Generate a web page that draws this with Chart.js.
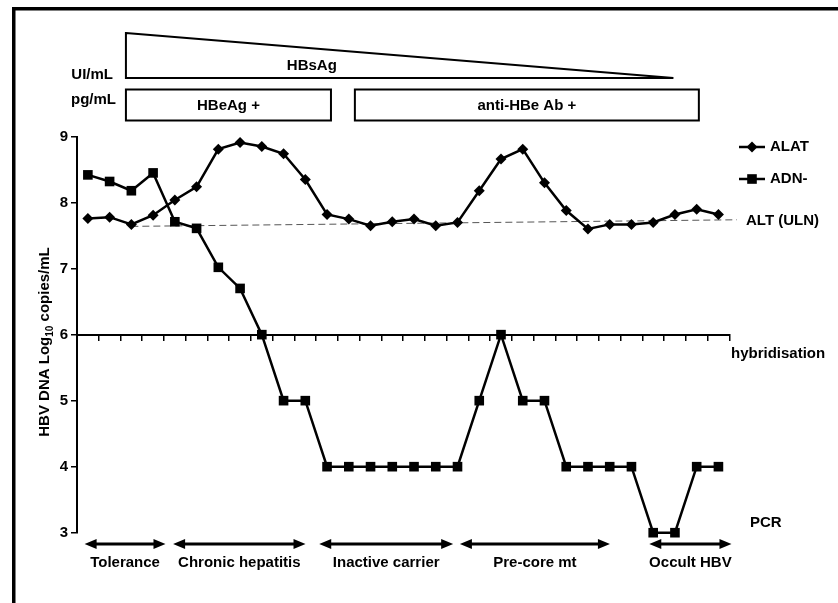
<!DOCTYPE html>
<html>
<head>
<meta charset="utf-8">
<script src="https://cdn.jsdelivr.net/npm/chart.js@4.4.0/dist/chart.umd.min.js"></script>
<style>
    html, body { margin: 0; padding: 0; background: #fff; }
</style>
</head>
<body>
<canvas id="myChart" width="838" height="603"></canvas>
<script>
        // visit index along the course of the infection
        var visits = [0, 1, 2, 3, 4, 5, 6, 7, 8, 9, 10, 11, 12, 13, 14, 15, 16, 17, 18, 19, 20, 21, 22, 23, 24, 25, 26, 27, 28, 29];
        var alat = [7.76, 7.78, 7.67, 7.81, 8.04, 8.24, 8.81, 8.91, 8.85, 8.74, 8.35, 7.82, 7.75, 7.65, 7.71,
                    7.75, 7.65, 7.70, 8.18, 8.66, 8.81, 8.30, 7.88, 7.60, 7.67, 7.67, 7.70, 7.82, 7.90, 7.82];
        var adn = [8.42, 8.32, 8.18, 8.45, 7.71, 7.61, 7.02, 6.70, 6.0, 5, 5, 4, 4, 4, 4,
                   4, 4, 4, 5, 6, 5, 5, 4, 4, 4, 4, 3, 3, 4, 4];
        // upper limit of normal for ALT (dashed)
        var ulnX = [2, 29.85];
        var ulnY = [7.64, 7.74];
        var yTicks = [3, 4, 5, 6, 7, 8, 9];

        var phaseLabels = ['Tolerance', 'Chronic hepatitis', 'Inactive carrier', 'Pre-core mt', 'Occult HBV'];
        var phaseFrom = [-0.15, 3.92, 10.64, 17.11, 25.82];
        var phaseTo = [3.57, 10.01, 16.8, 24.01, 29.6];

        var markerLabels = ['HBeAg +', 'anti-HBe Ab +'];
        var markerFrom = [1.75, 12.28];
        var markerTo = [11.18, 28.1];
        var hbsFrom = 1.75, hbsTo = 26.93, hbsLabelAt = 10.3;

        var FONT = "'Liberation Sans', Arial, sans-serif";

        function arrow(ctx, x1, x2, y) {
            ctx.lineWidth = 3;
            ctx.beginPath();
            ctx.moveTo(x1 + 6, y);
            ctx.lineTo(x2 - 6, y);
            ctx.stroke();
            ctx.beginPath();
            ctx.moveTo(x1, y); ctx.lineTo(x1 + 12, y - 5); ctx.lineTo(x1 + 12, y + 5); ctx.closePath();
            ctx.moveTo(x2, y); ctx.lineTo(x2 - 12, y - 5); ctx.lineTo(x2 - 12, y + 5); ctx.closePath();
            ctx.fill();
        }

        var decor = {
            id: 'decor',
            afterDraw: function(chart) {
                var ctx = chart.ctx;
                var xs = chart.scales.x;
                var px = function(v) { return xs.getPixelForValue(v); };
                ctx.save();
                ctx.fillStyle = '#000';
                ctx.strokeStyle = '#000';

                // frame
                ctx.fillRect(12, 7, 826, 3.5);
                ctx.fillRect(12, 7, 3.5, 596);

                // HBsAg wedge
                ctx.lineWidth = 2;
                ctx.beginPath();
                ctx.moveTo(px(hbsFrom), 33);
                ctx.lineTo(px(hbsTo), 78);
                ctx.lineTo(px(hbsFrom), 78);
                ctx.closePath();
                ctx.stroke();
                ctx.font = 'bold 15px ' + FONT;
                ctx.textAlign = 'center';
                ctx.textBaseline = 'middle';
                ctx.fillText('HBsAg', px(hbsLabelAt), 66);

                // HBeAg / anti-HBe boxes
                for (var i = 0; i < markerLabels.length; i++) {
                    var a = px(markerFrom[i]), b = px(markerTo[i]);
                    ctx.strokeRect(a, 89.5, b - a, 31);
                    ctx.fillText(markerLabels[i], (a + b) / 2, 106);
                }

                ctx.textAlign = 'right';
                ctx.fillText('UI/mL', 113, 75);
                ctx.fillText('pg/mL', 116, 100);

                // y title with subscript
                ctx.save();
                ctx.translate(45, 342);
                ctx.rotate(-Math.PI / 2);
                ctx.textAlign = 'left';
                ctx.textBaseline = 'middle';
                var p1 = 'HBV DNA Log', p3 = ' copies/mL';
                ctx.font = 'bold 15px ' + FONT;
                var w1 = ctx.measureText(p1).width, w3 = ctx.measureText(p3).width;
                ctx.font = 'bold 10px ' + FONT;
                var w2 = ctx.measureText('10').width;
                var x0 = -(w1 + w2 + w3) / 2;
                ctx.font = 'bold 15px ' + FONT;
                ctx.fillText(p1, x0, 0);
                ctx.fillText(p3, x0 + w1 + w2, 0);
                ctx.font = 'bold 10px ' + FONT;
                ctx.fillText('10', x0 + w1, 5);
                ctx.restore();

                // right side labels
                ctx.font = 'bold 15px ' + FONT;
                ctx.textAlign = 'left';
                ctx.fillText('ALT (ULN)', 746, 221);
                ctx.fillText('hybridisation', 731, 354);
                ctx.fillText('PCR', 750, 523);

                // legend
                var ys = [147, 179];
                chart.data.datasets.slice(0, 2).forEach(function(ds, k) {
                    ctx.lineWidth = 2.5;
                    ctx.beginPath();
                    ctx.moveTo(739, ys[k]);
                    ctx.lineTo(765, ys[k]);
                    ctx.stroke();
                    Chart.helpers.drawPoint(ctx, { pointStyle: ds.pointStyle, radius: ds.pointRadius, rotation: 0, borderWidth: 0 }, 752, ys[k]);
                    ctx.fillText(ds.label, 770, ys[k]);
                });

                // phases
                ctx.textAlign = 'center';
                for (var j = 0; j < phaseLabels.length; j++) {
                    var f = px(phaseFrom[j]), t = px(phaseTo[j]);
                    arrow(ctx, f, t, 544);
                    ctx.fillText(phaseLabels[j], (f + t) / 2, 563);
                }
                ctx.restore();
            }
        };

        var ctx = document.getElementById('myChart').getContext('2d');
        var hbvChart = new Chart(ctx, {
            type: 'line',
            data: {
                datasets: [
                    {
                        label: 'ALAT',
                        data: visits.map((v, i) => ({ x: v, y: alat[i] })),
                        borderColor: '#000',
                        backgroundColor: '#000',
                        borderWidth: 2.5,
                        pointStyle: 'rectRot',
                        pointRadius: 5.5,
                        pointBorderWidth: 0,
                        tension: 0,
                        clip: false
                    },
                    {
                        label: 'ADN-',
                        data: visits.map((v, i) => ({ x: v, y: adn[i] })),
                        borderColor: '#000',
                        backgroundColor: '#000',
                        borderWidth: 2.5,
                        pointStyle: 'rect',
                        pointRadius: 6.8,
                        pointBorderWidth: 0,
                        tension: 0,
                        clip: false
                    },
                    {
                        label: 'ALT (ULN)',
                        data: ulnX.map((v, i) => ({ x: v, y: ulnY[i] })),
                        borderColor: '#555',
                        borderWidth: 1,
                        borderDash: [7, 4],
                        pointRadius: 0,
                        clip: false
                    }
                ]
            },
            options: {
                responsive: false,
                animation: false,
                devicePixelRatio: 1,
                layout: { padding: { left: 0, right: 108.7, top: 136.6, bottom: 70.3 } },
                plugins: { legend: { display: false }, tooltip: { enabled: false } },
                scales: {
                    x: {
                        type: 'linear',
                        position: { y: 6 },
                        min: -0.5,
                        max: 29.5,
                        afterBuildTicks: function(scale) {
                            scale.ticks = visits.map(v => ({ value: v + 0.5 }));
                        },
                        ticks: { display: false },
                        grid: { drawOnChartArea: false, color: '#000', lineWidth: 1.5, tickLength: 5 },
                        border: { color: '#000', width: 2 }
                    },
                    y: {
                        min: 3,
                        max: 9,
                        afterFit: function(scale) { scale.width = 77; },
                        afterBuildTicks: function(scale) {
                            scale.ticks = yTicks.map(v => ({ value: v }));
                        },
                        ticks: { color: '#000', padding: 3, font: { family: FONT, size: 15, weight: 'bold' } },
                        grid: { drawOnChartArea: false, color: '#000', lineWidth: 1.5, tickLength: 6 },
                        border: { color: '#000', width: 2 }
                    }
                }
            },
            plugins: [decor]
        });
</script>
</body>
</html>
